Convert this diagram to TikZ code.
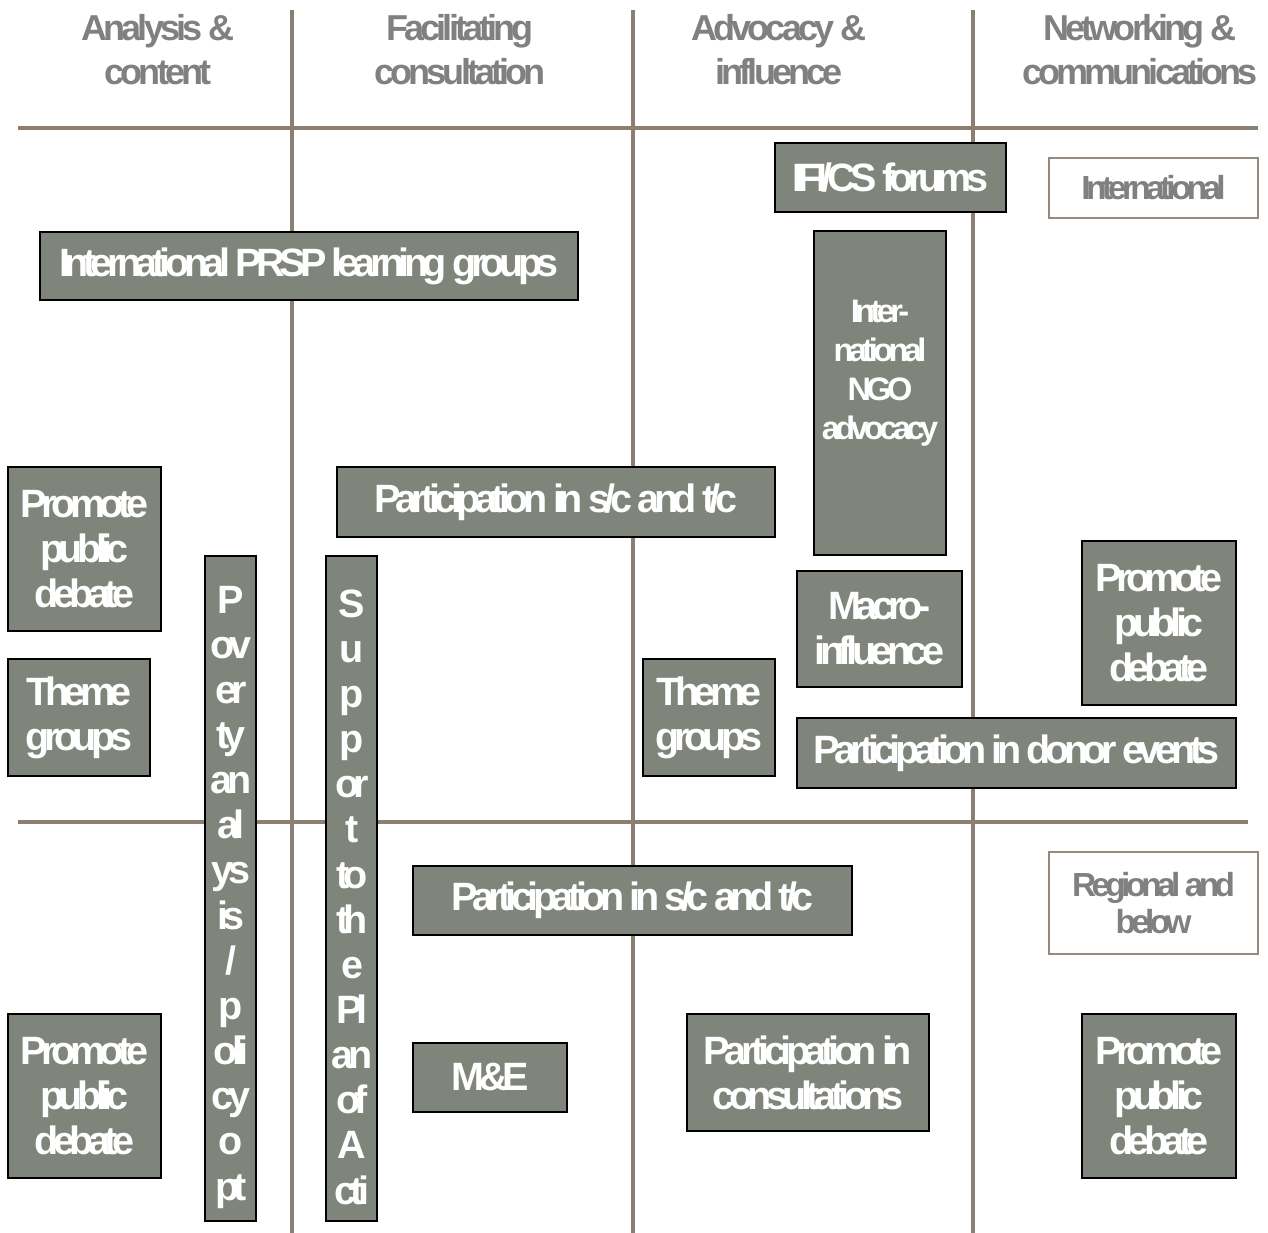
\documentclass[tikz,border=0pt]{standalone}
\usepackage{fontspec}
\setmainfont{Liberation Sans}
\newfontfamily\bxfont{Liberation Sans}[LetterSpace=-14]
\newfontfamily\hdfont{Liberation Sans}[LetterSpace=-11]
\definecolor{boxfill}{RGB}{127,133,122}
\definecolor{gridc}{RGB}{140,126,112}
\definecolor{headc}{RGB}{128,128,128}
\definecolor{labc}{RGB}{150,138,126}
\newcommand\mybox[7][box]{\node[#1,minimum width={(#5-#3)*0.02cm},minimum height={(#6-#4)*0.02cm}] (#2) at ({(#3+#5)/2},{(#4+#6)/2}) {#7};}
\begin{document}
\begin{tikzpicture}[x=0.02cm,y=-0.02cm,
  gridline/.style={draw=gridc,line width=1.8pt},
  box/.style={draw=black,line width=1.6pt,fill=boxfill,text=white,inner sep=0pt,align=center,
    font=\bxfont\bfseries\fontsize{22.5}{25.7}\selectfont},
  boxtext/.style={text=white,inner sep=0pt,align=center,
    font=\bxfont\bfseries\fontsize{22.5}{25.7}\selectfont},
  smalltext/.style={boxtext,font=\bxfont\bfseries\fontsize{18.5}{22.1}\selectfont},
  label/.style={draw=labc,line width=0.8pt,fill=white,text=headc,inner sep=0pt,align=center,
    font=\bxfont\bfseries\fontsize{19}{21.5}\selectfont},
  head/.style={text=headc,align=center,inner sep=0pt,
    font=\hdfont\bfseries\fontsize{20.5}{25}\selectfont}]
\useasboundingbox (0,0) rectangle (1268,1233);
% grid
\coordinate (v1t) at (292,10);  \coordinate (v1b) at (292,1233);
\coordinate (v2t) at (633,10);  \coordinate (v2b) at (633,1233);
\coordinate (v3t) at (973,10);  \coordinate (v3b) at (973,1233);
\coordinate (h1l) at (18,128);  \coordinate (h1r) at (1258,128);
\coordinate (h2l) at (18,822);  \coordinate (h2r) at (1248,822);
\draw[gridline] (v1t) -- (v1b);
\draw[gridline] (v2t) -- (v2b);
\draw[gridline] (v3t) -- (v3b);
\draw[gridline] (h1l) -- (h1r);
\draw[gridline] (h2l) -- (h2r);
% headers
\node[head] (hA) at (158,50) {Analysis \&\\content};
\node[head] (hF) at (460,50) {Facilitating\\consultation};
\node[head] (hV) at (779,50) {Advocacy \&\\influence};
\node[head] (hN) at (1140,50) {Networking \&\\communications};
% boxes
\mybox{ifi}{775}{143}{1006}{212}{IFI/CS forums}
\mybox[label]{intl}{1049}{158}{1258}{218}{International}
\mybox{prsp}{40}{232}{578}{300}{International PRSP learning groups}
\mybox{ngo}{814}{231}{946}{555}{}
\node[smalltext] (ngotext) at (880,373) {Inter-\\national\\NGO\\advocacy};
\mybox{ppd1}{8}{467}{161}{631}{Promote\\public\\debate}
\mybox{part1}{337}{467}{775}{537}{Participation in s/c and t/c}
\mybox{pov}{205}{556}{256}{1221}{}
\node[boxtext] (povtext) at (231,897) {P\\ov\\er\\ty\\an\\al\\ys\\is\\/\\p\\oli\\cy\\o\\pt};
\mybox{sup}{326}{556}{377}{1221}{}
\node[boxtext] (suptext) at (352,897) {S\\u\\p\\p\\or\\t\\to\\th\\e\\Pl\\an\\of\\A\\cti};
\mybox{theme1}{8}{659}{150}{776}{Theme\\groups}
\mybox{theme2}{643}{659}{775}{776}{Theme\\groups}
\mybox{macro}{797}{571}{962}{687}{Macro-\\influence}
\mybox{ppd2}{1082}{541}{1236}{705}{Promote\\public\\debate}
\mybox{donor}{797}{718}{1236}{788}{Participation in donor events}
\mybox{part2}{413}{866}{852}{935}{Participation in s/c and t/c}
\mybox[label]{reg}{1049}{852}{1258}{954}{Regional and\\below}
\mybox{ppd3}{8}{1014}{161}{1178}{Promote\\public\\debate}
\mybox{me}{413}{1043}{567}{1112}{M\&E}
\mybox{cons}{687}{1014}{929}{1131}{Participation in\\consultations}
\mybox{ppd4}{1082}{1014}{1236}{1178}{Promote\\public\\debate}
\end{tikzpicture}
\end{document}
